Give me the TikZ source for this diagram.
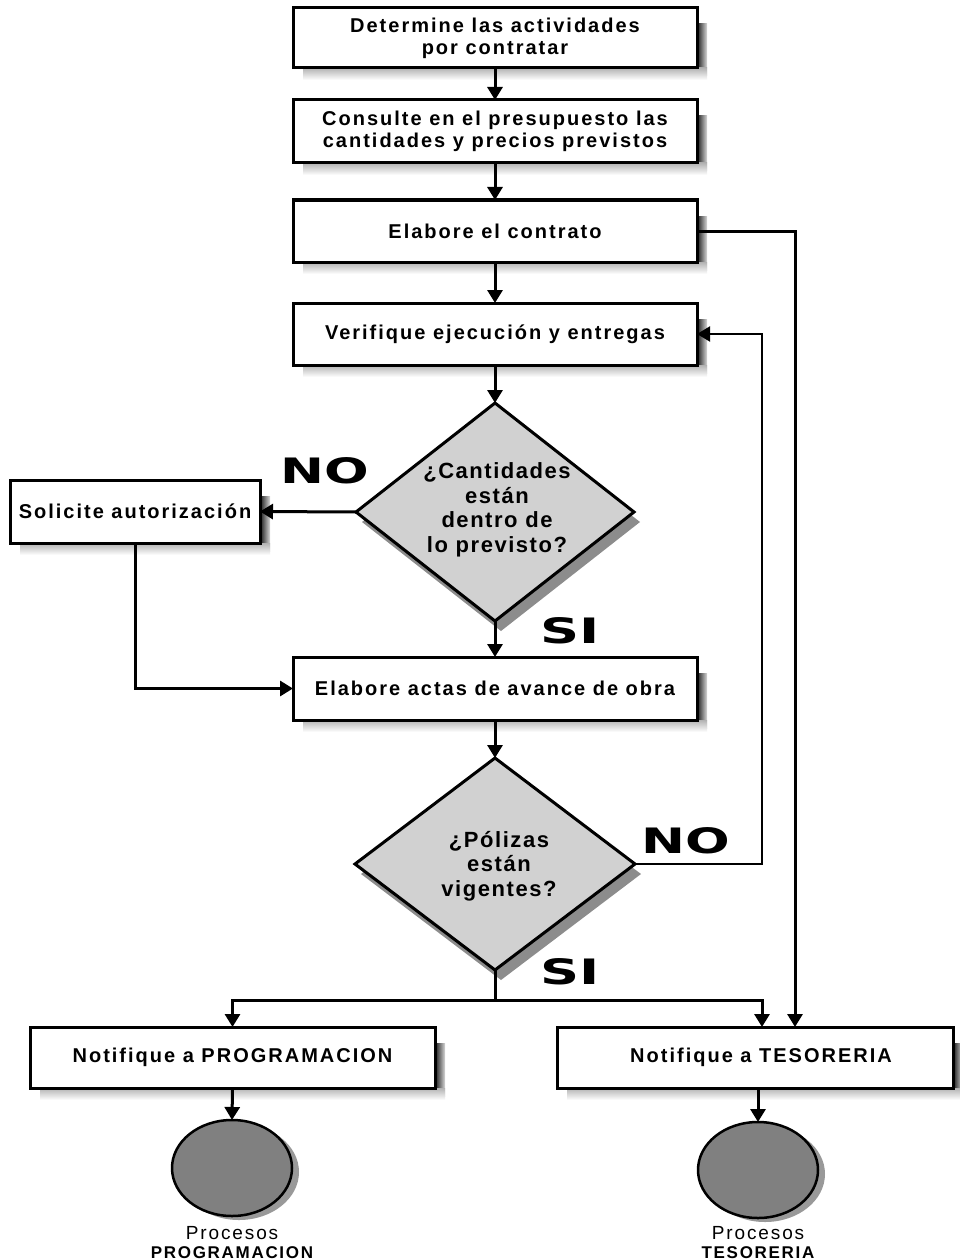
\documentclass[tikz,border=0pt]{standalone}
\usepackage{fontspec}
\setmainfont{Liberation Sans}
\newfontfamily\boxfont[LetterSpace=10.0]{Liberation Sans}
\newfontfamily\decfont[LetterSpace=7.0]{Liberation Sans}
\newfontfamily\heavyfont{DejaVu Sans}
\usetikzlibrary{shapes.geometric,arrows.meta,calc,backgrounds}
\begin{document}
\begin{tikzpicture}[x=1pt,y=-1pt,
  every node/.style={inner sep=0pt, outer sep=0pt},
  stepbox/.style={draw=black, line width=3pt, fill=white, rectangle, align=center,
    font=\boxfont\bfseries\fontsize{20}{22}\selectfont},
  dec/.style={draw=black, line width=3pt, fill=black!18, diamond, minimum width=278pt, minimum height=218pt},
  dectext/.style={align=center, font=\decfont\bfseries\fontsize{22}{24.5}\selectfont},
  endc/.style={draw=black, line width=2.5pt, fill=black!50, ellipse, minimum width=120pt, minimum height=96pt},
  yn/.style={font=\heavyfont\bfseries\fontsize{35}{35}\selectfont},
  endlbl/.style={align=center, font=\boxfont\fontsize{19}{19}\selectfont},
  conn/.style={line width=3pt, draw=black},
  arr/.style={conn, -{Triangle[width=15pt,length=13pt]}},
  thinarr/.style={line width=2pt, draw=black, -{Triangle[width=15pt,length=13pt]}}
]
\useasboundingbox (0,0) rectangle (959,1260);

% boxes
\node[stepbox, minimum width=404pt, minimum height=60pt] (b1) at (495,38) {Determine las actividades\\por contratar};
\node[stepbox, minimum width=404pt, minimum height=63pt] (b2) at (495,131.5) {Consulte en el presupuesto las\\cantidades y precios previstos};
\node[stepbox, minimum width=404pt, minimum height=62pt] (b3) at (495,231) {Elabore el contrato};
\node[stepbox, minimum width=404pt, minimum height=62pt] (b4) at (495,334) {Verifique ejecución y entregas};
\node[dec] (d1) at (495,512) {};
\node[dectext] (d1t) at (497,510) {¿Cantidades\\están\\dentro de\\lo previsto?};
\node[stepbox, minimum width=250pt, minimum height=63pt] (sol) at (135,511.5) {Solicite autorización};
\node[stepbox, minimum width=404pt, minimum height=63pt] (b5) at (495,688.5) {Elabore actas de avance de obra};
\node[dec, minimum height=212pt, minimum width=280pt] (d2) at (495,864) {};
\node[dectext] (d2t) at (499,866) {¿Pólizas\\están\\vigentes?};
\node[stepbox, minimum width=405pt, minimum height=61pt] (prog) at (232.5,1057.5) {Notifique a PROGRAMACION};
\node[stepbox, minimum width=396pt, minimum height=61pt] (tes) at (755,1057.5) {};
\node[font=\boxfont\bfseries\fontsize{20}{22}\selectfont] (test) at (761,1057.5) {Notifique a TESORERIA};
\node[endc] (c1) at (232,1168) {};
\node[endc] (c2) at (758,1170) {};
\node[endlbl, anchor=south] (l1) at (232,1259) {Procesos\\\fontsize{17}{18}\selectfont\bfseries PROGRAMACION};
\node[endlbl, anchor=south] (l2) at (758,1259) {Procesos\\\fontsize{17}{18}\selectfont\bfseries TESORERIA};

% yes / no labels
\node[yn] (no1) at (325,471) {\scalebox{1.5}[1]{NO}};
\node[yn] (si1) at (570,631) {\scalebox{1.55}[1]{SI}};
\node[yn] (no2) at (686,841) {\scalebox{1.5}[1]{NO}};
\node[yn] (si2) at (570,972) {\scalebox{1.55}[1]{SI}};

% shadows
\begin{scope}[on background layer]
\foreach \n in {b1,b2,b3,b4,sol,b5,prog,tes} {
  \shade[left color=black!90, right color=black!15] ($(\n.north east)+(0,16)$) rectangle ($(\n.south east)+(10,8)$);
  \shade[top color=black!30, bottom color=white] ($(\n.south west)+(10,0)$) rectangle ($(\n.south east)+(10,12)$);
}
\foreach \n in {d1,d2} {
  \fill[black!45] ($(\n.west)+(6,10)$) -- ($(\n.south)+(6,10)$) -- ($(\n.east)+(6,10)$) -- ($(\n.north)+(6,10)$) -- cycle;
}
\foreach \n in {c1,c2} {
  \fill[black!40] ($(\n.center)+(7,4)$) ellipse (60 and 48);
}
\end{scope}

% coordinates
\coordinate (rr) at (795,231);
\coordinate (lp) at (762,864);
\coordinate (j) at (495,1000);
\coordinate (tin) at (762,1027);

% connectors
\draw[arr] (b1.south) -- (b2.north);
\draw[arr] (b2.south) -- (b3.north);
\draw[arr] (b3.south) -- (b4.north);
\draw[arr] (b4.south) -- (d1.north);
\draw[arr] (d1.south) -- (b5.north);
\draw[arr] (b5.south) -- (d2.north);
\draw[arr] (d1.west) -- (sol.east);
\draw[arr] (sol.south) |- (b5.west);
\draw[thinarr] (d2.east) -- (lp) |- (b4.east);
\draw[arr] (b3.east) -- (rr) -- (rr |- tes.north);
\draw[conn] (d2.south) -- (j);
\draw[arr] (j) -| (prog.north);
\draw[arr] (j) -| (tin);
\draw[arr] (prog.south) -- (c1.north);
\draw[arr] (c2.north |- tes.south) -- (c2.north);
\end{tikzpicture}
\end{document}
